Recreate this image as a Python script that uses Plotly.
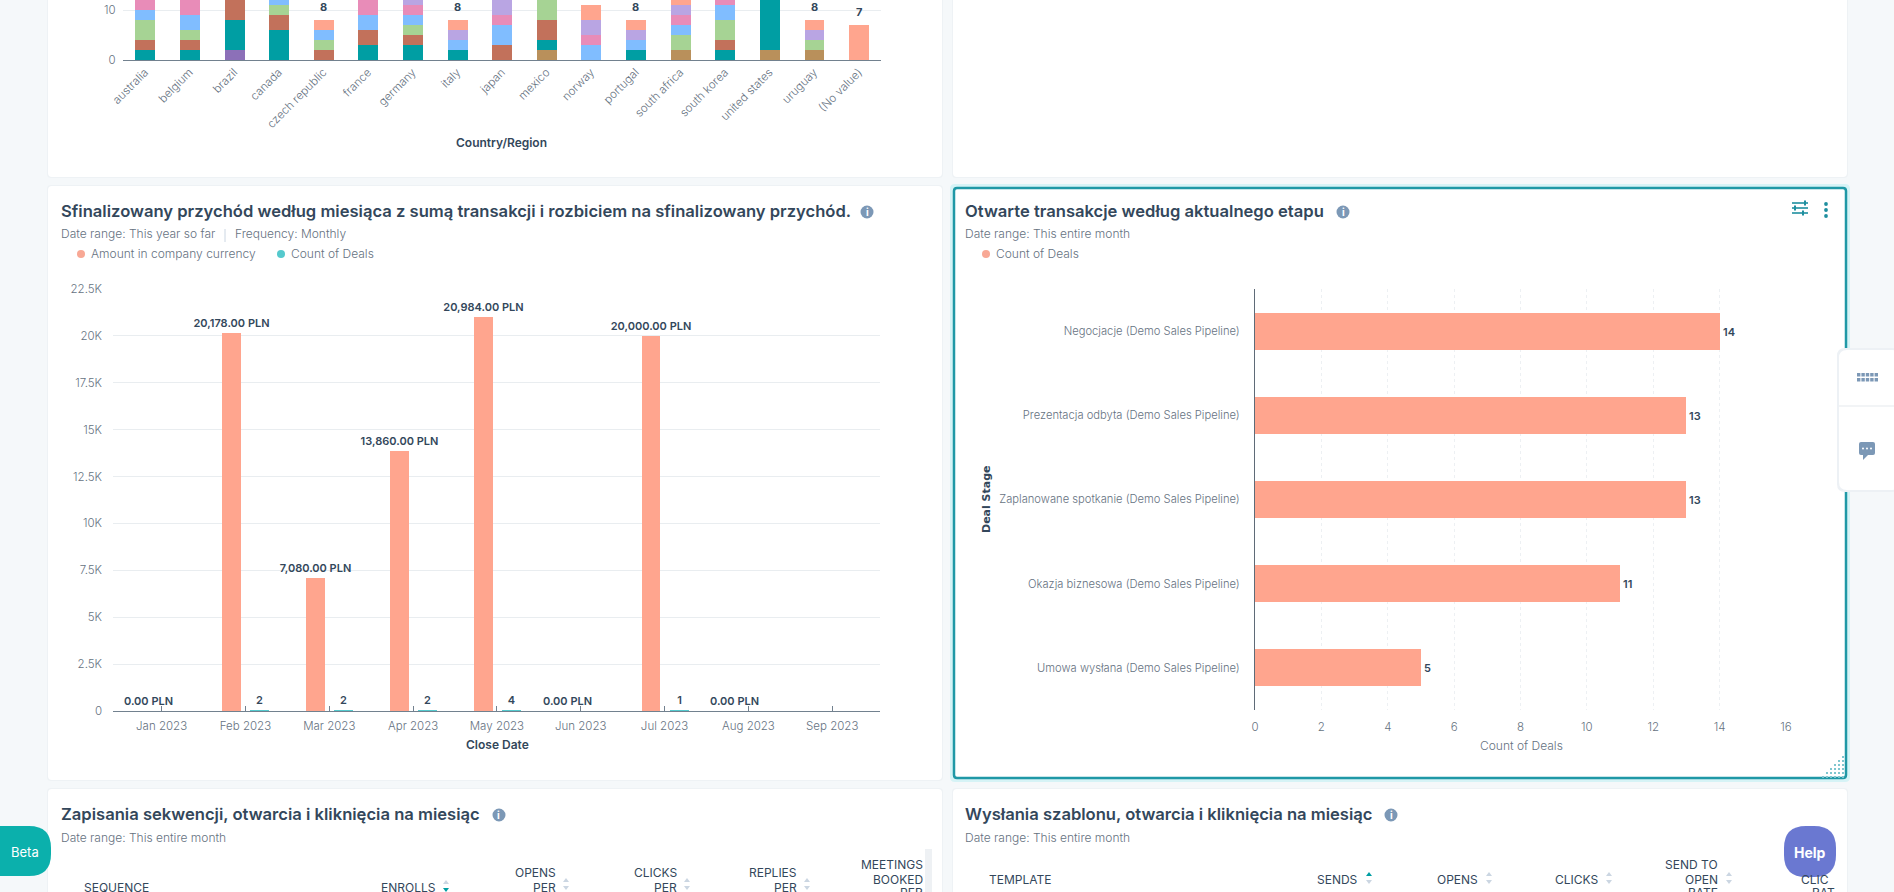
import plotly.graph_objects as go

W, H = 1894, 892

# ---------- data: top stacked chart (clipped by the page top) ----------
countries = ["australia", "belgium", "brazil", "canada", "czech republic", "france", "germany", "italy",
             "japan", "mexico", "norway", "portugal", "south africa", "south korea", "united states",
             "uruguay", "(No value)"]
stack_gold = [0, 0, 0, 0, 0, 0, 0, 0, 0, 2, 0, 0, 2, 0, 2, 2, 0]
stack_purple = [0, 0, 2, 0, 0, 0, 0, 0, 0, 0, 0, 0, 0, 0, 0, 0, 0]
stack_teal = [2, 2, 6, 6, 0, 3, 3, 2, 0, 2, 0, 2, 0, 2, 11, 0, 0]
stack_brown = [2, 2, 5, 3, 2, 3, 2, 0, 3, 4, 0, 0, 0, 2, 0, 0, 0]
stack_green = [4, 2, 0, 2, 2, 0, 2, 0, 0, 4, 0, 0, 3, 4, 0, 2, 0]
stack_blue = [2, 3, 0, 2, 2, 3, 2, 2, 4, 1, 3, 2, 2, 3, 0, 0, 0]
stack_pink = [2, 3, 0, 0, 0, 3, 2, 0, 2, 0, 2, 0, 2, 2, 0, 0, 0]
stack_lavender = [1, 1, 0, 0, 0, 1, 2, 2, 3, 0, 3, 2, 2, 0, 0, 2, 0]
stack_peach = [0, 0, 0, 0, 2, 0, 0, 2, 0, 0, 3, 2, 1, 0, 0, 2, 7]
top_yticks = [0, 10]

# ---------- data: closed revenue ----------
months = ["Jan 2023", "Feb 2023", "Mar 2023", "Apr 2023", "May 2023", "Jun 2023", "Jul 2023", "Aug 2023", "Sep 2023"]
amount_pln = [0, 20178, 7080, 13860, 20984, 0, 20000, 0, None]
deal_count = [None, 2, 2, 2, 4, None, 1, None, None]
rev_tickvals = [0, 2500, 5000, 7500, 10000, 12500, 15000, 17500, 20000, 22500]
rev_ticktext = ["0", "2.5K", "5K", "7.5K", "10K", "12.5K", "15K", "17.5K", "20K", "22.5K"]

# ---------- data: open deals ----------
stages = ["Negocjacje (Demo Sales Pipeline)", "Prezentacja odbyta (Demo Sales Pipeline)",
          "Zaplanowane spotkanie (Demo Sales Pipeline)", "Okazja biznesowa (Demo Sales Pipeline)",
          "Umowa wysłana (Demo Sales Pipeline)"]
stage_counts = [14, 13, 13, 11, 5]
stage_xticks = [0, 2, 4, 6, 8, 10, 12, 14, 16]

# ---------- styling ----------
FONT = "Inter"
INK = "#33475b"
GREY = "#66727f"
GRID = "#e9edf0"
AXIS = "#72818f"
PEACH = "#ffa58e"
TEAL = "#009ea3"
STACK_COLORS = {"gold": "#b9905b", "purple": "#8c70b8", "teal": TEAL, "brown": "#c2715b", "green": "#a6d394",
                "blue": "#80bdff", "pink": "#e88cb8", "lavender": "#b9a5e3", "peach": PEACH}


def px(x):
    return x / W


def py(y):
    return 1 - y / H


shapes, annotations = [], []


def rrect(x0, y0, x1, y1, r, fill, line=None, lw=0, layer="below"):
    X0, X1, Y0, Y1 = px(x0), px(x1), py(y0), py(y1)
    rx, ry = r / W, r / H
    path = (f"M {X0 + rx} {Y0} L {X1 - rx} {Y0} Q {X1} {Y0} {X1} {Y0 - ry} L {X1} {Y1 + ry} Q {X1} {Y1} {X1 - rx} {Y1} "
            f"L {X0 + rx} {Y1} Q {X0} {Y1} {X0} {Y1 + ry} L {X0} {Y0 - ry} Q {X0} {Y0} {X0 + rx} {Y0} Z")
    shapes.append(dict(type="path", xref="paper", yref="paper", path=path, fillcolor=fill,
                       line=dict(color=line or fill, width=lw), layer=layer))


def rect(x0, y0, x1, y1, fill, layer="below"):
    shapes.append(dict(type="rect", xref="paper", yref="paper", x0=px(x0), x1=px(x1), y0=py(y0), y1=py(y1),
                       fillcolor=fill, line=dict(width=0), layer=layer))


def circle(cx, cy, r, fill, layer="below"):
    shapes.append(dict(type="circle", xref="paper", yref="paper", x0=px(cx - r), x1=px(cx + r), y0=py(cy - r),
                       y1=py(cy + r), fillcolor=fill, line=dict(width=0), layer=layer))


def line(x0, y0, x1, y1, color, w=1, layer="below"):
    shapes.append(dict(type="line", xref="paper", yref="paper", x0=px(x0), x1=px(x1), y0=py(y0), y1=py(y1),
                       line=dict(color=color, width=w), layer=layer))


def tri(x, y, up, color):
    d = -1 if up else 1
    path = f"M {px(x - 3)} {py(y)} L {px(x + 3)} {py(y)} L {px(x)} {py(y + d * 4)} Z"
    shapes.append(dict(type="path", xref="paper", yref="paper", path=path, fillcolor=color,
                       line=dict(width=0), layer="below"))


def text(x, y, s, size=12, color=GREY, anchor="left", weight=300, family=FONT, angle=0):
    dx = {"left": -2, "right": 2, "center": 0}[anchor]
    annotations.append(dict(xref="paper", yref="paper", x=px(x + dx), y=py(y - 1), text=s, showarrow=False, xanchor=anchor,
                            yanchor="middle", textangle=angle,
                            font=dict(size=size, color=color, family=family, weight=weight)))


def info(cx, cy):
    circle(cx, cy, 6.5, "#7c98b6")
    text(cx, cy + 1, "i", 10, "#ffffff", "center", 700)


def sort_arrows(x, y, up_on=False, down_on=False):
    tri(x, y - 2, True, TEAL if up_on else "#cbd6e2")
    tri(x, y + 2, False, TEAL if down_on else "#cbd6e2")


# ---------- page furniture ----------
rrect(47, -10, 943, 178, 4, "#eef2f5")
rrect(48, -10, 942, 177, 4, "#ffffff")
rrect(952, -10, 1848, 178, 4, "#eef2f5")
rrect(953, -10, 1847, 177, 4, "#ffffff")
rrect(47, 185, 943, 781, 4, "#eef2f5")
rrect(48, 186, 942, 780, 4, "#ffffff")
rrect(950, 184, 1850, 782, 5, "#d6f3f6")
rrect(954, 188, 1846, 778, 3, "#ffffff", "#1f98a6", 2.5)
rrect(47, 788, 943, 900, 4, "#eef2f5")
rrect(48, 789, 942, 900, 4, "#ffffff")
rrect(952, 788, 1848, 900, 4, "#eef2f5")
rrect(953, 789, 1847, 900, 4, "#ffffff")

# card titles and captions
TITLE = dict(size=16.6, color=INK, weight=600)
text(61, 212, "Sfinalizowany przychód według miesiąca z sumą transakcji i rozbiciem na sfinalizowany przychód.", **TITLE)
info(867, 212)
text(61, 235, "Date range: This year so far", 12)
line(225, 229, 225, 242, "#cbd6e2")
text(235, 235, "Frequency: Monthly", 12)
circle(81, 254, 4, "#f8a895")
text(91, 254, "Amount in company currency", 12)
circle(281, 254, 4, "#55c9cd")
text(291, 254, "Count of Deals", 12)

text(965, 212, "Otwarte transakcje według aktualnego etapu", **TITLE)
info(1343, 212)
text(965, 235, "Date range: This entire month", 12)
circle(986, 254, 4, "#f8a895")
text(996, 254, "Count of Deals", 12)

text(61, 815, "Zapisania sekwencji, otwarcia i kliknięcia na miesiąc", **TITLE)
info(499, 815)
text(61, 838, "Date range: This entire month", 12)
text(965, 815, "Wysłania szablonu, otwarcia i kliknięcia na miesiąc", **TITLE)
info(1391, 815)
text(965, 838, "Date range: This entire month", 12)

# table headers
HEAD = dict(size=12, color=INK, weight=400)
text(84, 888, "SEQUENCE", **HEAD)
text(436, 888, "ENROLLS", anchor="right", **HEAD)
sort_arrows(446, 886, down_on=True)
for right, arrow, top in [(556, 566, "OPENS"), (677, 687, "CLICKS"), (797, 807, "REPLIES")]:
    text(right, 873, top, anchor="right", **HEAD)
    text(right, 888, "PER", anchor="right", **HEAD)
    sort_arrows(arrow, 884)
text(923, 865, "MEETINGS", anchor="right", **HEAD)
text(923, 880, "BOOKED", anchor="right", **HEAD)
text(923, 893, "PER", anchor="right", **HEAD)
rect(925, 849, 932, 892, "#eef1f4")
text(989, 880, "TEMPLATE", **HEAD)
for right, arrow, label, on in [(1358, 1369, "SENDS", True), (1478, 1489, "OPENS", False), (1598, 1609, "CLICKS", False)]:
    text(right, 880, label, anchor="right", **HEAD)
    sort_arrows(arrow, 878, up_on=on)
text(1718, 865, "SEND TO", anchor="right", **HEAD)
text(1718, 880, "OPEN", anchor="right", **HEAD)
text(1718, 893, "RATE", anchor="right", **HEAD)
sort_arrows(1729, 878)
text(1801, 880, "CLIC", **HEAD)
text(1812, 893, "RAT", **HEAD)

# card toolbar, resize handle
for yy, kx in [(203, 1805), (208, 1795), (213, 1803)]:
    line(1792, yy, 1808, yy, "#1f8f9f", 1.6)
    line(kx, yy - 2.5, kx, yy + 2.5, "#1f8f9f", 2)
for yy in (204, 210, 216):
    circle(1826, yy, 1.9, "#1f8f9f")
for row in range(6):
    for col in range(row + 1):
        rect(1842 - col * 4, 756 + row * 4, 1844 - col * 4, 758 + row * 4, "#7fc6cf")

# floating widgets
rrect(1837, 348, 1900, 492, 8, "#edf1f5", layer="above")
rrect(1839, 350, 1900, 490, 8, "#ffffff", layer="above")
line(1839, 406, 1894, 406, "#e5e9ed", layer="above")
for row in range(2):
    for col in range(5):
        rect(1857 + col * 4.4, 373 + row * 5, 1860.4 + col * 4.4, 376.5 + row * 5, "#7c98b6", layer="above")
rrect(1859, 442, 1875, 455, 2, "#7c98b6", layer="above")
shapes.append(dict(type="path", xref="paper", yref="paper",
                   path=f"M {px(1863)} {py(455)} L {px(1868)} {py(455)} L {px(1863)} {py(460)} Z",
                   fillcolor="#7c98b6", line=dict(width=0), layer="above"))
for dx in (1863, 1867, 1871):
    circle(dx, 448.5, 1, "#ffffff", layer="above")
rrect(-20, 826, 51, 876, 22, "#0bb0ac", layer="above")
text(25, 853, "Beta", 13, "#ffffff", "center", 400)
rrect(1784, 826, 1836, 877, 22, "#6a78d1", layer="above")
text(1810, 853, "Help", 14, "#ffffff", "center", 700)

# axis titles
text(501, 143, "Country/Region", 12, INK, "center", 600)
text(497, 745, "Close Date", 12, INK, "center", 600)
text(1521, 746, "Count of Deals", 12, GREY, "center", 300)
text(986, 500, "Deal Stage", 11, INK, "center", 700, "DejaVu Sans", -90)

# ---------- traces ----------
fig = go.Figure()
base = [0] * len(countries)
for name, vals in [("gold", stack_gold), ("purple", stack_purple), ("teal", stack_teal), ("brown", stack_brown),
                   ("green", stack_green), ("blue", stack_blue), ("pink", stack_pink), ("lavender", stack_lavender),
                   ("peach", stack_peach)]:
    fig.add_trace(go.Bar(x=countries, y=vals, base=list(base), name=name,
                         marker=dict(color=STACK_COLORS[name], line=dict(width=0)),
                         width=0.447, xaxis="x", yaxis="y", hoverinfo="skip"))
    base = [b + v for b, v in zip(base, vals)]

for c, t in zip(countries, base):
    if t <= 9:
        annotations.append(dict(xref="x", yref="y", x=c, y=t, text=str(t), showarrow=False, yanchor="middle",
                                yshift=13, font=dict(size=11, color=INK, family=FONT, weight=700)))

LABEL = dict(size=11, color=INK, family=FONT, weight=600)
fig.add_trace(go.Bar(x=months, y=amount_pln, name="Amount in company currency", marker=dict(color=PEACH, line=dict(width=0)),
                     width=0.226, offset=-0.275, xaxis="x2", yaxis="y2", cliponaxis=False,
                     text=[None if v is None else f"{v:,.2f} PLN" for v in amount_pln], textposition="outside",
                     textangle=0, constraintext="none", textfont=LABEL, hoverinfo="skip"))
fig.add_trace(go.Bar(x=months, y=deal_count, name="Count of Deals", marker=dict(color="#55c9cd", line=dict(width=0)),
                     width=0.226, offset=0.06, xaxis="x2", yaxis="y2", cliponaxis=False,
                     text=[None if v is None else str(v) for v in deal_count], textposition="outside",
                     textangle=0, constraintext="none", textfont=LABEL, hoverinfo="skip"))

fig.add_trace(go.Bar(y=stages, x=stage_counts, orientation="h", name="Count of Deals",
                     marker=dict(color=PEACH, line=dict(width=0)), width=0.44, xaxis="x3", yaxis="y3",
                     text=[str(v) for v in stage_counts], textposition="outside", cliponaxis=False,
                     textangle=0, constraintext="none", textfont=LABEL, hoverinfo="skip"))

TICK = dict(size=11.5, color=GREY, family=FONT, weight=300)
fig.update_layout(
    width=W, height=H, autosize=False, margin=dict(l=0, r=0, t=0, b=0), paper_bgcolor="#f5f8fa", plot_bgcolor="rgba(0,0,0,0)",
    showlegend=False, barmode="overlay", bargap=0, shapes=shapes, annotations=annotations,
    font=dict(family=FONT, color=GREY),
    xaxis=dict(domain=[px(122.6), px(881)], range=[-0.5, 16.5], type="category", categoryorder="array", categoryarray=countries,
               tickangle=-45, tickfont=TICK, showline=True, linecolor=AXIS, linewidth=1.2, showgrid=False, ticks="", anchor="y", automargin=False),
    yaxis=dict(domain=[py(60), 1], range=[0, 12], tickvals=top_yticks, tickfont=TICK, gridcolor=GRID, gridwidth=1, zeroline=False,
               showline=False, ticks="", ticklabelstandoff=6, anchor="x", automargin=False),
    xaxis2=dict(domain=[px(113), px(880)], range=[-0.58, 8.57], type="category", categoryorder="array", categoryarray=months,
                tickangle=0, tickfont=TICK, showline=True, linecolor=AXIS, linewidth=1.2, showgrid=False, ticks="inside",
                ticklen=5, tickcolor=AXIS, tickwidth=1, ticklabelstandoff=4, anchor="y2", automargin=False),
    yaxis2=dict(domain=[py(711), py(289)], range=[0, 22500], tickvals=rev_tickvals, ticktext=rev_ticktext, tickfont=TICK,
                gridcolor=GRID, zeroline=False, showline=False, ticks="", ticklabelstandoff=10, anchor="x2", automargin=False),
    xaxis3=dict(domain=[px(1255), px(1786)], range=[0, 16], tickvals=stage_xticks, tickfont=TICK, gridcolor="#edf0f3", griddash="dot",
                zeroline=False, showline=False, ticks="", anchor="y3", automargin=False, ticklabelstandoff=8),
    yaxis3=dict(domain=[py(710), py(289)], range=[4.5, -0.5], type="category", categoryorder="array", categoryarray=stages,
                tickfont=dict(TICK, size=11.2), showline=True, linecolor="#5f6b78", linewidth=1, showgrid=False, ticks="", ticklabelstandoff=12,
                anchor="x3", automargin=False),
)
fig.write_html("out.html", config=dict(displayModeBar=False),
               post_script="document.body.style.margin='0';document.documentElement.style.overflow='hidden';")
